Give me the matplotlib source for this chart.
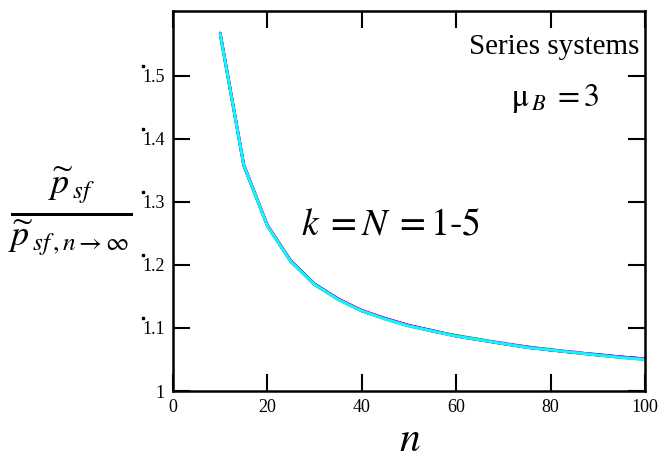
import matplotlib
matplotlib.use("Agg")
import matplotlib.pyplot as plt

plt.rcParams['mathtext.fontset'] = 'stix'
plt.rcParams['font.family'] = ['Liberation Serif', 'DejaVu Serif']

n_vals = [10, 15, 20, 25, 30, 35, 40, 45, 50, 55, 60, 65, 70, 75, 80, 85, 90, 95, 100]
ratio_k1 = [1.567, 1.358, 1.263, 1.206, 1.169, 1.146, 1.128, 1.115, 1.104, 1.095, 1.088, 1.081, 1.075, 1.070, 1.065, 1.061, 1.057, 1.054, 1.051]
ratio_k2 = [1.568, 1.359, 1.262, 1.206, 1.170, 1.146, 1.127, 1.115, 1.104, 1.096, 1.087, 1.081, 1.075, 1.069, 1.065, 1.061, 1.058, 1.054, 1.051]
ratio_k3 = [1.566, 1.357, 1.262, 1.205, 1.169, 1.145, 1.127, 1.114, 1.103, 1.095, 1.088, 1.082, 1.075, 1.070, 1.066, 1.061, 1.057, 1.053, 1.050]
ratio_k4 = [1.568, 1.358, 1.263, 1.205, 1.169, 1.146, 1.128, 1.115, 1.104, 1.095, 1.087, 1.081, 1.076, 1.070, 1.065, 1.062, 1.057, 1.054, 1.051]
ratio_k5 = [1.567, 1.358, 1.262, 1.205, 1.169, 1.145, 1.127, 1.114, 1.103, 1.095, 1.087, 1.081, 1.075, 1.069, 1.065, 1.061, 1.057, 1.053, 1.050]
series = [ratio_k1, ratio_k2, ratio_k3, ratio_k4, ratio_k5]
colors = ['red', 'blue', '#00c000', 'magenta', 'cyan']

x_ticks = [0, 20, 40, 60, 80, 100]
y_ticks = [1.0, 1.1, 1.2, 1.3, 1.4, 1.5]
y_tick_labels = ['1', '1.1', '1.2', '1.3', '1.4', '1.5']

fig = plt.figure(figsize=(6.58, 4.66), dpi=100)
ax = fig.add_axes([173/658, 1-391/466, (645-173)/658, (391-11)/466])

for vals, c in zip(series, colors):
    ax.plot(n_vals, vals, color=c, lw=2, solid_capstyle='round')

ax.set_xlim(0, 100)
ax.set_ylim(1.0, 1.603)
ax.set_xticks(x_ticks)
ax.set_xticklabels([str(v) for v in x_ticks])
ax.set_yticks(y_ticks)
ax.set_yticklabels(y_tick_labels)
ax.tick_params(direction='in', length=12, width=1.5, labelsize=13,
               top=True, right=True, pad=6)
for s in ax.spines.values():
    s.set_linewidth(1.8)

# small dots beside y tick labels (decorative artefacts of the original)
ax.plot([-0.064] * 5, [v + 0.016 for v in y_ticks[1:]], linestyle='none',
        marker='s', ms=1.6, color='black', clip_on=False,
        transform=ax.get_yaxis_transform())

ax.text(0.807, 0.905, 'Series systems', transform=ax.transAxes,
        fontsize=21, ha='center', va='center')
ax.text(0.81, 0.77, r'$\mathrm{\mu}_{\,B}\;=3$', transform=ax.transAxes,
        fontsize=23, ha='center', va='center')
ax.text(0.462, 0.435, r'$k\;=N\;=1\text{-}5$', transform=ax.transAxes,
        fontsize=27, ha='center', va='center')

fig.text(70/658, 1-212/466,
         r'$\frac{\widetilde{p}_{\,sf}}{\widetilde{p}_{\,sf\,,n\rightarrow\infty}}$',
         fontsize=37, ha='center', va='center')
fig.text(410/658, 1-441/466, r'$n$', fontsize=30, ha='center', va='center')

fig.savefig('out.png', dpi=100)
